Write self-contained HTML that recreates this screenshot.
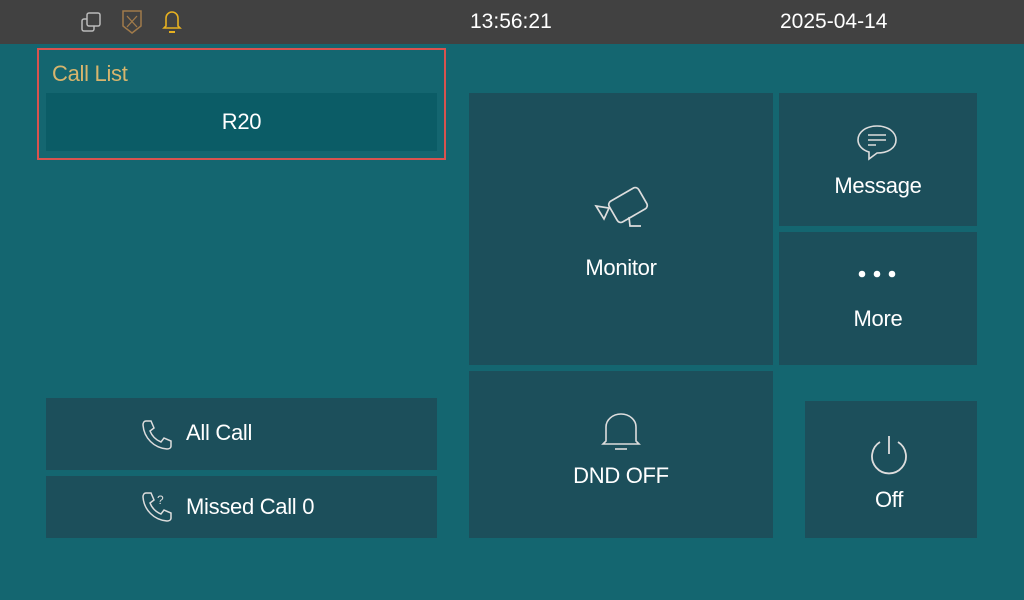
<!DOCTYPE html>
<html><head><meta charset="utf-8"><style>
*{margin:0;padding:0;box-sizing:border-box}
body{width:1024px;height:600px;background:#146670;position:relative;overflow:hidden;font-family:"Liberation Sans",sans-serif;color:#fff}
.bar{position:absolute;left:0;top:0;width:1024px;height:44px;background:#414141}
.t{position:absolute;font-size:21px}
.tile{position:absolute;background:#1c4f5b}
.lbl{position:absolute;width:100%;text-align:center;font-size:22px;letter-spacing:-0.3px}
svg{position:absolute}
</style></head><body>
<div class="bar"></div>
<svg style="left:80px;top:8px" width="110" height="28">
<rect x="2" y="11" width="12" height="12" rx="2" fill="none" stroke="#bbb" stroke-width="1.5"/>
<rect x="7" y="5" width="13" height="13" rx="2" fill="#414141" stroke="#bbb" stroke-width="1.5"/>
<path d="M43 3 L61 3 L61 18 L52 25 L43 18 Z" fill="none" stroke="#a07a4a" stroke-width="1.5"/>
<path d="M47 8 L57 19 M57 8 L47 19" stroke="#a07a4a" stroke-width="1.3"/>
<path d="M86 18 L86 10 A6 6 0 0 1 98 10 L98 18 L100 20 L84 20 Z" fill="none" stroke="#e6b020" stroke-width="1.6"/>
<path d="M89 24 L95 24" stroke="#e6b020" stroke-width="2"/>
</svg>
<div class="t" style="left:470px;top:10px">13:56:21</div>
<div class="t" style="left:780px;top:10px">2025-04-14</div>
<div style="position:absolute;left:37px;top:48px;width:409px;height:112px;border:2px solid #d9534f"></div>
<div style="position:absolute;left:52px;top:61px;font-size:22px;color:#d7b56d;letter-spacing:-0.3px">Call List</div>
<div style="position:absolute;left:46px;top:93px;width:391px;height:58px;background:#0b5c66"><div class="lbl" style="top:16px">R20</div></div>
<div class="tile" style="left:469px;top:93px;width:304px;height:272px">
<svg style="left:122px;top:86px" width="64" height="56"><g fill="none" stroke="#ddd" stroke-width="1.7"><rect x="20" y="14" width="34" height="24" rx="4" transform="rotate(-30 37 26)"/><path d="M5 27 L18 29 L13 40 Z"/><path d="M38 38 L39 47 L50 47"/></g></svg>
<div class="lbl" style="top:162px">Monitor</div></div>
<div class="tile" style="left:779px;top:93px;width:198px;height:133px">
<svg style="left:76px;top:30px" width="46" height="42"><path d="M22 3 C33 3 41 9 41 17 C41 25 33 30 22 30 L14 36 L14 29 C7 27 3 22 3 17 C3 9 11 3 22 3 Z" fill="none" stroke="#ddd" stroke-width="1.6"/><path d="M13 12H31M13 17H31M13 22H21" stroke="#ddd" stroke-width="1.6"/></svg>
<div class="lbl" style="top:80px">Message</div></div>
<div class="tile" style="left:779px;top:232px;width:198px;height:133px">
<svg style="left:78px;top:36px" width="42" height="12"><circle cx="5" cy="6" r="3.3" fill="#fff"/><circle cx="20" cy="6" r="3.3" fill="#fff"/><circle cx="35" cy="6" r="3.3" fill="#fff"/></svg>
<div class="lbl" style="top:74px">More</div></div>
<div class="tile" style="left:469px;top:371px;width:304px;height:167px">
<svg style="left:130px;top:42px" width="44" height="40"><path d="M7 28 L7 14 A15 13 0 0 1 37 14 L37 28 L40 31 L4 31 Z" fill="none" stroke="#ddd" stroke-width="1.6"/><path d="M16 36H28" stroke="#ddd" stroke-width="1.6"/></svg>
<div class="lbl" style="top:92px">DND OFF</div></div>
<div class="tile" style="left:805px;top:401px;width:172px;height:137px">
<svg style="left:61px;top:32px" width="46" height="46"><path d="M14 9 A17 17 0 1 0 32 9" fill="none" stroke="#ddd" stroke-width="1.8"/><path d="M23 3V21" stroke="#ddd" stroke-width="1.8"/></svg>
<div class="lbl" style="top:86px;left:-2px">Off</div></div>
<div class="tile" style="left:46px;top:398px;width:391px;height:72px">
<svg style="left:94px;top:20px" width="34" height="34"><path d="M6 3 L11 3 L14 10 L10 13 C12 18 16 22 21 24 L24 20 L31 23 L31 28 C31 30 29 31 27 31 C14 30 4 20 3 7 C3 5 4 3 6 3 Z" fill="none" stroke="#ddd" stroke-width="1.5"/></svg>
<div style="position:absolute;left:140px;top:22px;font-size:22px;letter-spacing:-0.3px">All Call</div></div>
<div class="tile" style="left:46px;top:476px;width:391px;height:62px">
<svg style="left:94px;top:14px" width="34" height="34"><path d="M6 3 L11 3 L14 10 L10 13 C12 18 16 22 21 24 L24 20 L31 23 L31 28 C31 30 29 31 27 31 C14 30 4 20 3 7 C3 5 4 3 6 3 Z" fill="none" stroke="#ddd" stroke-width="1.5"/><text x="17" y="14" font-size="12" fill="#ddd" font-family="Liberation Sans">?</text></svg>
<div style="position:absolute;left:140px;top:18px;font-size:22px;letter-spacing:-0.3px">Missed Call 0</div></div>
</body></html>
